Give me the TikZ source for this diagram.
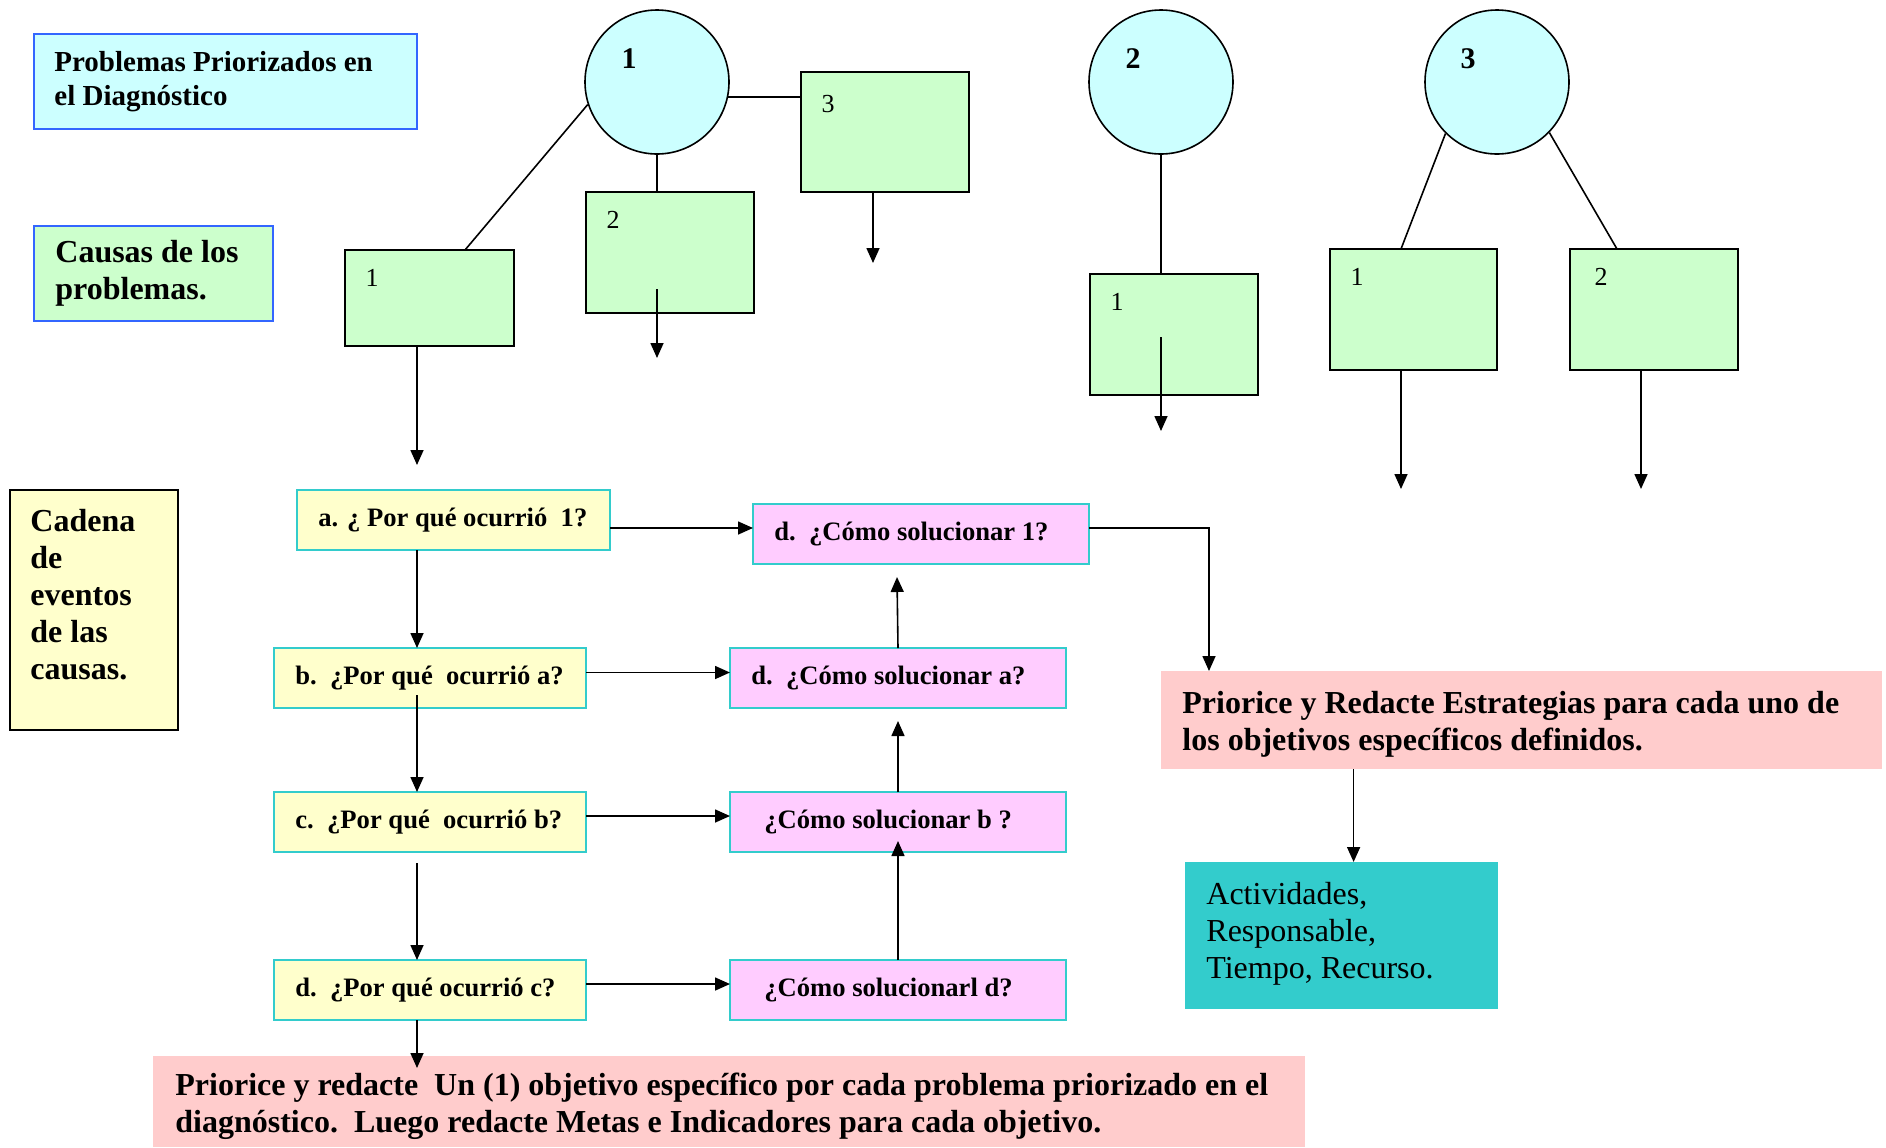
\documentclass[tikz,border=0pt]{standalone}
\usepackage{fontspec}
\setmainfont{Liberation Serif}
\usetikzlibrary{arrows.meta}

\definecolor{probfill}{HTML}{CCFFFF}
\definecolor{causefill}{HTML}{CCFFCC}
\definecolor{edgeblue}{HTML}{3366FF}
\definecolor{whyfill}{HTML}{FFFFCC}
\definecolor{howfill}{HTML}{FFCCFF}
\definecolor{edgeteal}{HTML}{33CCCC}
\definecolor{goalfill}{HTML}{FFCCCC}
\definecolor{taskfill}{HTML}{33CCCC}

\newcommand\fHead{\fontsize{14.5}{17}\selectfont\bfseries}
\newcommand\fBig{\fontsize{16}{18.5}\selectfont\bfseries}
\newcommand\fChain{\fontsize{13.3}{16}\selectfont\bfseries}
\newcommand\fNote{\fontsize{16}{18.5}\selectfont\bfseries}
\newcommand\fAct{\fontsize{16}{18.4}\selectfont}
\newcommand\fNum{\fontsize{13}{15}\selectfont}
\newcommand\fCirc{\fontsize{15}{18}\selectfont\bfseries}

\begin{document}
\begin{tikzpicture}[x=0.5pt,y=-0.5pt,
  box/.style={rectangle, anchor=north west, inner sep=0pt, outer sep=0pt},
  sz/.style 2 args={minimum width=#1, minimum height=#2},
  lbl/.style={inner sep=0pt, anchor=west, align=left},
  num/.style={inner sep=0pt, anchor=center, xshift=13.5pt, yshift=-14pt, font=\fNum},
  prob/.style={circle, minimum size=72pt, inner sep=0pt, fill=probfill, draw=black, line width=0.8pt},
  cause/.style={fill=causefill, draw=black, line width=1pt},
  why/.style={fill=whyfill, draw=edgeteal, line width=1pt},
  how/.style={fill=howfill, draw=edgeteal, line width=1pt},
  conn/.style={line width=0.8pt, black},
  arr/.style={conn, -{Triangle[length=7.5pt,width=6.5pt]}}
]
\useasboundingbox (0,0) rectangle (1886,1147);

% legend boxes on the left
\node[box, sz={191.5pt}{47.5pt}, fill=probfill, draw=edgeblue, line width=1pt,
  label={[lbl, xshift=10pt, font=\fHead]west:{Problemas Priorizados en\\el Diagnóstico}}] (leg1) at (34,34) {};
\node[box, sz={119.5pt}{47.5pt}, fill=causefill, draw=edgeblue, line width=1pt,
  label={[lbl, xshift=10.5pt, font=\fBig]west:{Causas de los\\problemas.}}] (leg2) at (34,226) {};
\node[box, sz={84pt}{120pt}, fill=whyfill, draw=black, line width=1pt,
  label={[lbl, xshift=10pt, yshift=7.75pt, font=\fBig]west:{Cadena\\de\\eventos\\de las\\causas.}}] (cad) at (10,490) {};

% prioritized problems
\node[prob, label={[inner sep=0pt, anchor=center, xshift=-14pt, yshift=11.5pt, font=\fCirc]center:1}] (c1) at (657,82) {};
\node[prob, label={[inner sep=0pt, anchor=center, xshift=-14pt, yshift=11.5pt, font=\fCirc]center:2}] (c2) at (1161,82) {};
\node[prob, label={[inner sep=0pt, anchor=center, xshift=-14.5pt, yshift=11.5pt, font=\fCirc]center:3}] (c3) at (1497,82) {};

% causes
\node[box, sz={84.5pt}{48pt}, cause, label={[num]north west:1}] (g11) at (345,250) {};
\node[box, sz={84pt}{60.5pt}, cause, label={[num]north west:2}] (g12) at (586,192) {};
\node[box, sz={84pt}{60pt}, cause, label={[num, yshift=-2pt]north west:3}] (g13) at (801,72) {};
\node[box, sz={84pt}{60.5pt}, cause, label={[num]north west:1}] (g21) at (1090,274) {};
\node[box, sz={83.5pt}{60.5pt}, cause, label={[num]north west:1}] (g31) at (1330,249) {};
\node[box, sz={84pt}{60.5pt}, cause, label={[num, xshift=2pt]north west:2}] (g32) at (1570,249) {};

% chain of events
\node[box, sz={156.5pt}{30pt}, why, label={[lbl, xshift=10.5pt, font=\fChain]west:{a. ¿ Por qué ocurrió\ \ 1?}}] (a) at (297,490) {};
\node[box, sz={156pt}{30pt}, why, label={[lbl, xshift=10.5pt, font=\fChain]west:{b.\ \ ¿Por qué\ \ ocurrió a?}}] (b) at (274,648) {};
\node[box, sz={156pt}{30pt}, why, label={[lbl, xshift=10.5pt, font=\fChain]west:{c.\ \ ¿Por qué\ \ ocurrió b?}}] (c) at (274,792) {};
\node[box, sz={156pt}{30pt}, why, label={[lbl, xshift=10.5pt, font=\fChain]west:{d.\ \ ¿Por qué ocurrió c?}}] (dc) at (274,960) {};

\node[box, sz={168pt}{30pt}, how, label={[lbl, xshift=10.5pt, font=\fChain]west:{d.\ \ ¿Cómo solucionar 1?}}] (d1) at (753,504) {};
\node[box, sz={168pt}{30pt}, how, label={[lbl, xshift=10.5pt, font=\fChain]west:{d.\ \ ¿Cómo solucionar a?}}] (da) at (730,648) {};
\node[box, sz={168pt}{30pt}, how, label={[lbl, xshift=17pt, font=\fChain]west:{¿Cómo solucionar b ?}}] (db) at (730,792) {};
\node[box, sz={168pt}{30pt}, how, label={[lbl, xshift=17pt, font=\fChain]west:{¿Cómo solucionarl d?}}] (dd) at (730,960) {};

% objectives, strategies, activities
\node[box, sz={360.5pt}{49pt}, fill=goalfill,
  label={[lbl, xshift=10.5pt, yshift=-2.2pt, font=\fNote]west:{Priorice y Redacte Estrategias para cada uno de\\los objetivos específicos definidos.}}] (estr) at (1161,671) {};
\node[box, sz={156.5pt}{73.5pt}, fill=taskfill,
  label={[lbl, xshift=10.5pt, yshift=1pt, font=\fAct]west:{Actividades,\\Responsable,\\Tiempo, Recurso.}}] (act) at (1185,862) {};
\node[box, sz={576pt}{45.5pt}, fill=goalfill,
  label={[lbl, xshift=11pt, yshift=-2.5pt, font=\fNote]west:{Priorice y redacte\ \ Un (1) objetivo específico por cada problema priorizado en el\\diagnóstico.\ \ Luego redacte Metas e Indicadores para cada objetivo.}}] (bot) at (153,1056) {};

% free ends of connectors
\coordinate (e11) at (417,465);
\coordinate (s12) at (657,289);
\coordinate (e12) at (657,358);
\coordinate (e13) at (873,263);
\coordinate (s21) at (1161,337);
\coordinate (e21) at (1161,431);
\coordinate (e31) at (1401,489);
\coordinate (e32) at (1641,489);
\coordinate (sbc) at (417,695);
\coordinate (scd) at (417,863);
\coordinate (ebot) at (417,1068);
\coordinate (u1) at (897,577);

% problem tree connectors
\draw[conn] (c1.198.7) -- ([xshift=60pt]g11.north west);
\draw[conn] (c1.south) -- (c1.south |- g12.north);
\draw[conn] (c1.348.8) -- (c1.348.8 -| g13.west);
\draw[arr] (e11 |- g11.south) -- (e11);
\draw[arr] (s12) -- (e12);
\draw[arr] (e13 |- g13.south) -- (e13);
\draw[conn] (c2.south) -- (c2.south |- g21.north);
\draw[arr] (s21) -- (e21);
\draw[conn] (c3.225) -- ([xshift=35.5pt]g31.north west);
\draw[conn] (c3.316) -- ([xshift=23.5pt]g32.north west);
\draw[arr] (e31 |- g31.south) -- (e31);
\draw[arr] (e32 |- g32.south) -- (e32);

% chain connectors
\draw[arr] (a.south -| e11) -- (b.north -| e11);
\draw[arr] (sbc) -- (c.north -| e11);
\draw[arr] (scd) -- (dc.north -| e11);
\draw[arr] (dc.south -| ebot) -- (ebot);

\coordinate (ad) at ([yshift=-4pt]a.east);
\draw[arr] (ad) -- (ad -| d1.west);
\coordinate (bd) at ([yshift=2.75pt]b.east);
\draw[arr] (bd) -- (bd -| da.west);
\coordinate (cd) at ([yshift=3pt]c.east);
\draw[arr] (cd) -- (cd -| db.west);
\coordinate (dcd) at ([yshift=3pt]dc.east);
\draw[arr] (dcd) -- (dcd -| dd.west);

\draw[arr] (dd.north) -- ([yshift=5.5pt]db.south);
\draw[arr] (db.north) -- ([yshift=-6.5pt]da.south);
\draw[arr] (da.north) -- (u1);

\coordinate (de) at ([yshift=3pt]d1.east);
\draw[arr] (de) -| ([xshift=24pt]estr.north west);
\coordinate (ac) at ([xshift=84.3pt]act.north west);
\draw[arr] (ac |- estr.south) -- (ac);
\end{tikzpicture}
\end{document}
